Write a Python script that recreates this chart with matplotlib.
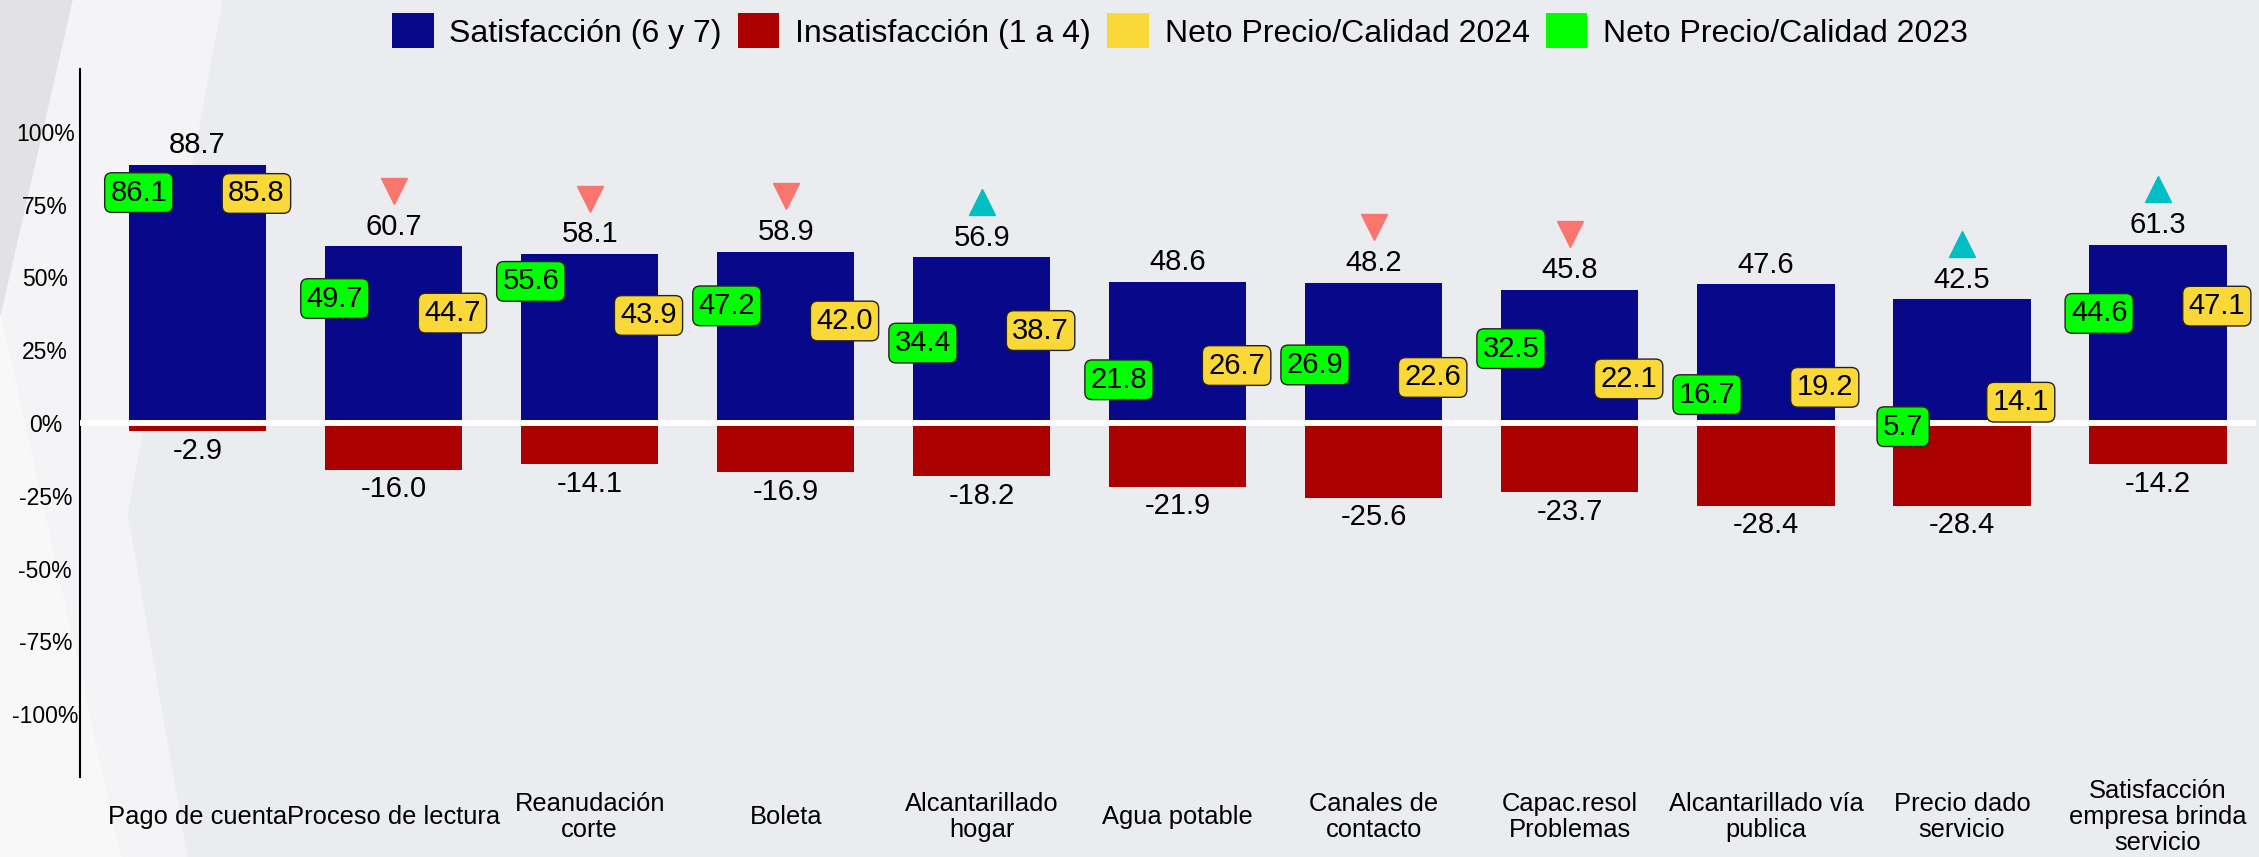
import matplotlib
matplotlib.use("Agg")
import matplotlib.pyplot as plt
from matplotlib.patches import Patch, Polygon

plt.rcParams["font.family"] = ["Liberation Sans", "DejaVu Sans"]

categories = [
    "Pago de cuenta", "Proceso de lectura", "Reanudación\ncorte", "Boleta",
    "Alcantarillado\nhogar", "Agua potable", "Canales de\ncontacto",
    "Capac.resol\nProblemas", "Alcantarillado vía\npublica", "Precio dado\nservicio",
    "Satisfacción\nempresa brinda\nservicio",
]
satisfaccion = [88.7, 60.7, 58.1, 58.9, 56.9, 48.6, 48.2, 45.8, 47.6, 42.5, 61.3]
insatisfaccion = [-2.9, -16.0, -14.1, -16.9, -18.2, -21.9, -25.6, -23.7, -28.4, -28.4, -14.2]
neto_2024 = [85.8, 44.7, 43.9, 42.0, 38.7, 26.7, 22.6, 22.1, 19.2, 14.1, 47.1]
neto_2023 = [86.1, 49.7, 55.6, 47.2, 34.4, 21.8, 26.9, 32.5, 16.7, 5.7, 44.6]
# trend marker per category: "down", "up" or None
tendencia = [None, "down", "down", "down", "up", None, "down", "down", None, "up", "up"]
yticks = [-100, -75, -50, -25, 0, 25, 50, 75, 100]

BLUE = "#08088A"
RED = "#AA0000"
YELLOW = "#F9D838"
GREEN = "#00FF00"

W, H = 2259, 857
fig = plt.figure(figsize=(W / 100, H / 100), dpi=100)
fig.patch.set_facecolor("#EBECF0")


def px(points):
    return [(x / W, 1 - y / H) for x, y in points]


# background swoosh on the left
fig.patches.append(Polygon(px([(72, 0), (222, 0), (127, 514), (187, 857), (0, 857), (0, 315)]),
                           closed=True, transform=fig.transFigure, color="#F4F4F6", zorder=-2))
fig.patches.append(Polygon(px([(0, 0), (72, 0), (0, 315)]), closed=True,
                           transform=fig.transFigure, color="#E2E2E4", zorder=-2))
fig.patches.append(Polygon(px([(0, 315), (0, 857), (120, 857)]), closed=True,
                           transform=fig.transFigure, color="#F8F8F9", zorder=-2))

ax = fig.add_axes([80 / W, (H - 777) / H, (2256 - 80) / W, (777 - 69) / H])
ax.set_facecolor("none")

x = list(range(len(categories)))
ax.bar(x, satisfaccion, width=0.7, color=BLUE, zorder=2)
ax.bar(x, insatisfaccion, width=0.7, color=RED, zorder=2)
ax.axhline(0, color="white", linewidth=4.3, zorder=3)

for i in x:
    ax.annotate(f"{satisfaccion[i]:.1f}", (i, satisfaccion[i]), xytext=(0, 4),
                textcoords="offset points", ha="center", va="bottom", fontsize=21)
    ax.annotate(f"{insatisfaccion[i]:.1f}", (i, insatisfaccion[i]), xytext=(0, -4),
                textcoords="offset points", ha="center", va="top", fontsize=21)
    for val, dx, col in [(neto_2023[i], -0.3, GREEN), (neto_2024[i], 0.3, YELLOW)]:
        ax.annotate(f"{val:.1f}", (i + dx, val), xytext=(0, -4.5),
                    textcoords="offset points", ha="center", va="top", fontsize=21, zorder=5,
                    bbox=dict(boxstyle="round,pad=0.2,rounding_size=0.25", fc=col,
                              ec="#222222", lw=1.0))
    if tendencia[i] == "down":
        ax.plot(i, satisfaccion[i] + 19, marker="v", color="#F8766D", markersize=19,
                linestyle="none", zorder=4)
    elif tendencia[i] == "up":
        ax.plot(i, satisfaccion[i] + 19, marker="^", color="#00BFC4", markersize=19,
                linestyle="none", zorder=4)

ax.set_xlim(-0.6, 10.5)
ax.set_ylim(-121.6, 121.6)
ax.set_yticks(yticks)
ax.set_yticklabels([f"{t}%" for t in yticks], fontsize=16.5, ha="center")
ax.tick_params(axis="y", length=0, pad=25)
ax.set_xticks(x)
ax.set_xticklabels(categories, fontsize=18.4, va="center", linespacing=1.1)
ax.tick_params(axis="x", length=0, pad=29)

for side in ["top", "right", "bottom"]:
    ax.spines[side].set_visible(False)
ax.spines["left"].set_linewidth(1.5)
ax.spines["left"].set_color("black")

handles = [
    Patch(facecolor=BLUE, label="Satisfacción (6 y 7)"),
    Patch(facecolor=RED, label="Insatisfacción (1 a 4)"),
    Patch(facecolor=YELLOW, label="Neto Precio/Calidad 2024"),
    Patch(facecolor=GREEN, label="Neto Precio/Calidad 2023"),
]
fig.legend(handles=handles, loc="center", bbox_to_anchor=(1180 / W, 1 - 31 / H), ncol=4,
           frameon=False, fontsize=23, handlelength=1.3, handleheight=1.3,
           handletextpad=0.5, columnspacing=0.5, borderaxespad=0)

fig.savefig("out.png", dpi=100, facecolor=fig.get_facecolor())
